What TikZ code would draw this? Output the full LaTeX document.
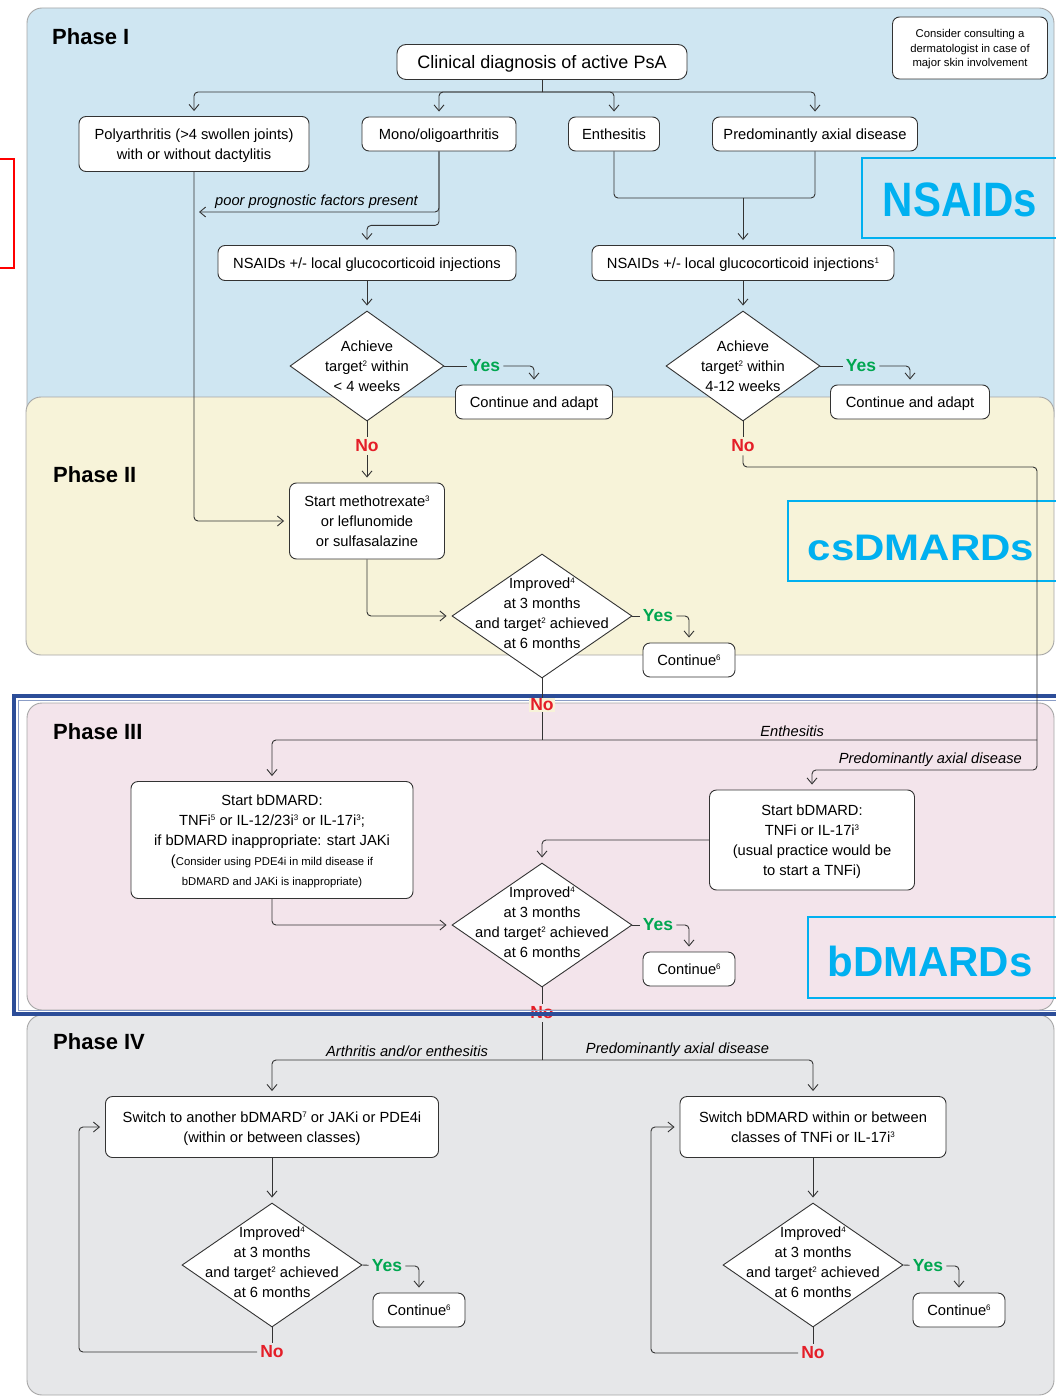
\documentclass[tikz,border=0pt]{standalone}
\usepackage{fontspec}
\setmainfont{Liberation Sans}
\usepackage{xcolor}
\usepackage{tikz}
\usetikzlibrary{shapes.geometric}
\usetikzlibrary{arrows.meta}

\definecolor{phaseone}{RGB}{207,230,242}
\definecolor{phasetwo}{RGB}{247,243,217}
\definecolor{phasethree}{RGB}{243,228,235}
\definecolor{phasefour}{RGB}{230,231,233}
\definecolor{yesgreen}{RGB}{0,166,80}
\definecolor{nored}{RGB}{228,30,40}
\definecolor{tagcyan}{RGB}{0,176,240}
\definecolor{frameblue}{RGB}{44,77,152}
\newcommand{\fn}[1]{\raisebox{0.6ex}{\fontsize{8}{8}\selectfont #1}}
\newcommand{\smallfont}{\fontsize{11.3}{20}\selectfont}

\begin{document}
\begin{tikzpicture}[x=1pt,y=-1pt,
    >={Straight Barb[length=6pt,width=10pt]},
    every node/.style={font=\fontsize{14.7}{20}\selectfont},
    box/.style={draw=black!80,fill=white,rounded corners=7pt,align=center,inner sep=2pt,text depth=0pt,line width=0.9pt},
    decision/.style={diamond,draw=black!80,fill=white,line width=0.9pt,inner sep=0pt,minimum width=180pt,minimum height=124pt},
    yes/.style={text=yesgreen,font=\fontsize{17.5}{20}\selectfont\bfseries,inner sep=3pt},
    no/.style={text=nored,font=\fontsize{17.5}{20}\selectfont\bfseries,inner sep=3pt},
    phase/.style={anchor=west,inner sep=0pt,font=\fontsize{22}{26}\selectfont\bfseries},
    note/.style={font=\fontsize{14.7}{20}\selectfont\itshape},
    bigtag/.style={text=tagcyan,font=\fontsize{42}{48}\selectfont\bfseries},
    panel/.style={draw=black!35,line width=0.9pt,rounded corners=15pt},
    flow/.style={draw=black!80,line width=0.9pt,rounded corners=4pt},
    arrow/.style={flow,->,shorten >=5pt}]
    \useasboundingbox (0,0) rectangle (1056,1396);

    % phase panels
    \draw[panel,fill=phaseone] (27,8) rectangle (1054,430);
    \draw[panel,fill=phasetwo] (26,397) rectangle (1054,655);
    \draw[panel,fill=phasethree] (27,703) rectangle (1054,1010);
    \draw[panel,fill=phasefour] (27,1015) rectangle (1054,1395);
    \draw[red,line width=2pt] (-10,159) rectangle (14,268);

    \node[phase] (phone) at (52,37) {Phase I};
    \node[phase] (phtwo) at (53,475) {Phase II};
    \node[phase] (phthree) at (53,732) {Phase III};
    \node[phase] (phfour) at (53,1042) {Phase IV};

    \node[no] (nofour) at (542,1013) {No};
    \draw[frameblue,line width=4pt] (14,696) rectangle (1080,1014);
    \draw[frameblue!55,line width=1pt] (18,700) rectangle (1076,1010);

    \draw[tagcyan,line width=2.5pt] (862,158) rectangle (1080,238);
    \node[bigtag] (nsaidtag) at (960,200) {\scalebox{1}[1.15]{NSAIDs}};
    \draw[tagcyan,line width=2.5pt] (788,501) rectangle (1080,581);
    \node[bigtag] (cstag) at (921,548) {\scalebox{1}[0.88]{csDMARDs}};
    \draw[tagcyan,line width=2.5pt] (808,917) rectangle (1080,998);
    \node[bigtag] (btag) at (930,961) {bDMARDs};

    % phase I
    \node[box,minimum width=290pt,minimum height=35pt,rounded corners=9pt,font=\fontsize{18}{22}\selectfont] (diag) at (542,62) {Clinical diagnosis of active PsA};
    \node[box,minimum width=155pt,minimum height=62pt,font=\fontsize{11.3}{14.5}\selectfont] (consult) at (970,48) {Consider consulting a\\dermatologist in case of\\major skin involvement};
    \node[box,minimum width=230pt,minimum height=55pt] (poly) at (194,144) {Polyarthritis (>4 swollen joints)\\with or without dactylitis};
    \node[box,minimum width=154pt,minimum height=34pt] (mono) at (439,134) {Mono/oligoarthritis};
    \node[box,minimum width=91pt,minimum height=34pt] (enth) at (614,134) {Enthesitis};
    \node[box,minimum width=205pt,minimum height=34pt] (axial) at (815,134) {Predominantly axial disease};
    \node[box,minimum width=298pt,minimum height=35pt] (nsaidone) at (367,263) {NSAIDs +/- local glucocorticoid injections};
    \node[box,minimum width=302pt,minimum height=35pt] (nsaidtwo) at (743,263) {NSAIDs +/- local glucocorticoid injections\fn{1}};
    \node[decision,minimum width=154pt,minimum height=110pt,label={[align=center]center:Achieve\\target\fn{2} within\\< 4 weeks}] (achone) at (367,366) {};
    \node[decision,minimum width=154pt,minimum height=110pt,label={[align=center]center:Achieve\\target\fn{2} within\\4-12 weeks}] (achtwo) at (743,366) {};
    \node[yes] (yesone) at (485,366) {Yes};
    \node[yes] (yestwo) at (861,366) {Yes};
    \node[box,minimum width=157pt,minimum height=34pt] (contone) at (534,402) {Continue and adapt};
    \node[box,minimum width=159pt,minimum height=34pt] (conttwo) at (910,402) {Continue and adapt};
    \node[no] (noone) at (367,446) {No};
    \node[no] (notwo) at (743,446) {No};

    % phase II
    \node[box,minimum width=155pt,minimum height=76pt] (meth) at (367,521) {Start methotrexate\fn{3}\\or leflunomide\\or sulfasalazine};
    \node[decision,label={[align=center,yshift=3pt]center:Improved\fn{4}\\at 3 months\\and target\fn{2} achieved\\at 6 months}] (impone) at (542,616) {};
    \node[yes] (yesthree) at (658,616) {Yes};
    \node[box,minimum width=92pt,minimum height=34pt] (contthree) at (689,660) {Continue\fn{6}};
    \node[no,fill=phasetwo,inner sep=1pt] (nothree) at (542,705) {No};

    % phase III
    \node[box,minimum width=282pt,minimum height=117pt] (bdone) at (272,840) {Start bDMARD:\\TNFi\fn{5} or IL-12/23i\fn{3} or IL-17i\fn{3};\\if bDMARD inappropriate: start JAKi\\({\smallfont Consider using PDE4i in mild disease if}\\{\smallfont bDMARD and JAKi is inappropriate)}};
    \node[box,minimum width=205pt,minimum height=100pt] (bdtwo) at (812,840) {Start bDMARD:\\TNFi or IL-17i\fn{3}\\(usual practice would be\\to start a TNFi)};
    \node[decision,label={[align=center,yshift=3pt]center:Improved\fn{4}\\at 3 months\\and target\fn{2} achieved\\at 6 months}] (imptwo) at (542,925) {};
    \node[yes] (yesfour) at (658,925) {Yes};
    \node[box,minimum width=92pt,minimum height=34pt] (contfour) at (689,969) {Continue\fn{6}};

    % phase IV
    \node[box,minimum width=333pt,minimum height=61pt] (swone) at (272,1127) {Switch to another bDMARD\fn{7} or JAKi or PDE4i\\(within or between classes)};
    \node[box,minimum width=266pt,minimum height=61pt] (swtwo) at (813,1127) {Switch bDMARD within or between\\classes of TNFi or IL-17i\fn{3}};
    \node[decision,label={[align=center,yshift=3pt]center:Improved\fn{4}\\at 3 months\\and target\fn{2} achieved\\at 6 months}] (impthree) at (272,1265) {};
    \node[decision,label={[align=center,yshift=3pt]center:Improved\fn{4}\\at 3 months\\and target\fn{2} achieved\\at 6 months}] (impfour) at (813,1265) {};
    \node[yes] (yesfive) at (387,1266) {Yes};
    \node[yes] (yessix) at (928,1266) {Yes};
    \node[box,minimum width=92pt,minimum height=34pt] (contfive) at (419,1310) {Continue\fn{6}};
    \node[box,minimum width=92pt,minimum height=34pt] (contsix) at (959,1310) {Continue\fn{6}};
    \node[no] (nofive) at (272,1352) {No};
    \node[no] (nosix) at (813,1353) {No};

    % connectors
    \coordinate (split) at (542,92);
    \draw[flow] (diag) -- (split);
    \foreach \n in {poly,mono,enth,axial}
        \draw[arrow] (split) -| (\n.north);
    \coordinate (ppf) at (194,212);
    \draw[arrow] (mono.south) |- node[note,pos=0.75,above] {poor prognostic factors present} (ppf);
    \draw[arrow] (mono.south) -- ++(0,74) -| (nsaidone.north);
    \draw[arrow] (poly.south) |- (meth.west);
    \coordinate (merge) at (743,198);
    \draw[flow] (enth.south) |- (merge);
    \draw[flow] (axial.south) |- (merge);
    \draw[arrow] (merge) -- (nsaidtwo.north);
    \draw[arrow] (nsaidone) -- (achone);
    \draw[arrow] (nsaidtwo) -- (achtwo);
    \draw[flow] (achone.east) -- (yesone);
    \draw[arrow] (yesone.east) -| (contone.north);
    \draw[flow] (achtwo.east) -- (yestwo);
    \draw[arrow] (yestwo.east) -| (conttwo.north);
    \draw[flow] (achone) -- (noone);
    \draw[arrow] (noone) -- (meth);
    \draw[flow] (achtwo) -- (notwo);

    \coordinate (rightup) at (1037,467);
    \coordinate (enthturn) at (1037,740);
    \coordinate (rightdown) at (1037,770);
    \draw[arrow] (notwo.south) |- (rightup) -- (rightdown) -| node[note,pos=0.237,above] {Predominantly axial disease} (bdtwo.north);
    \draw[arrow] (enthturn) -| node[note,pos=0.16,above] {Enthesitis} (bdone.north);

    \draw[arrow] (meth.south) |- (impone.west);
    \draw[flow] (impone.east) -- (yesthree);
    \draw[arrow] (yesthree.east) -| (contthree.north);
    \draw[flow] (impone) -- (nothree);
    \draw[flow] (nothree) -- (nothree |- enthturn);

    \draw[arrow] (bdone.south) |- (imptwo.west);
    \draw[arrow] (bdtwo.west) -| (imptwo.north);
    \draw[flow] (imptwo.east) -- (yesfour);
    \draw[arrow] (yesfour.east) -| (contfour.north);
    \draw[flow] (imptwo) -- (nofour);

    \coordinate (splittwo) at (542,1060);
    \draw[flow] (nofour) -- (splittwo);
    \draw[arrow] (splittwo) -| node[note,pos=0.25,above] {Arthritis and/or enthesitis} (swone.north);
    \draw[arrow] (splittwo) -| node[note,pos=0.25,above] {Predominantly axial disease} (swtwo.north);
    \draw[arrow] (swone) -- (impthree);
    \draw[arrow] (swtwo) -- (impfour);
    \draw[flow] (impthree.east) -- (yesfive);
    \draw[arrow] (yesfive.east) -| (contfive.north);
    \draw[flow] (impfour.east) -- (yessix);
    \draw[arrow] (yessix.east) -| (contsix.north);
    \draw[flow] (impthree) -- (nofive);
    \draw[flow] (impfour) -- (nosix);
    \coordinate (loopone) at (79,1352);
    \coordinate (looptwo) at (651,1353);
    \draw[arrow] (nofive.west) -- (loopone) |- (swone.west);
    \draw[arrow] (nosix.west) -- (looptwo) |- (swtwo.west);
\end{tikzpicture}
\end{document}
